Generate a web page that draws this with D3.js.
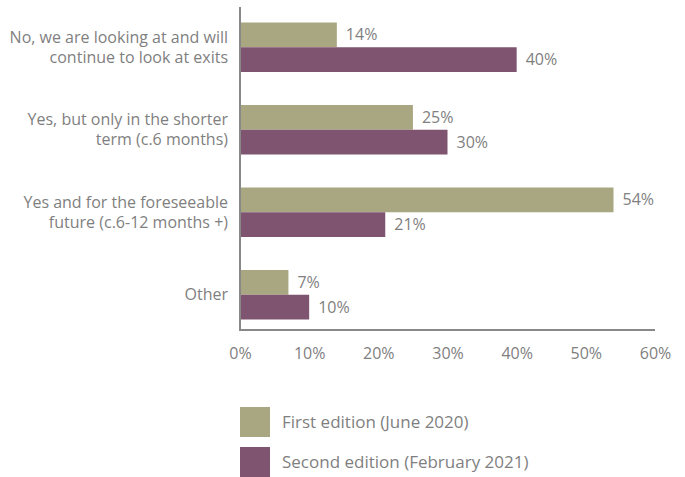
<!DOCTYPE html>
<html>
<head>
<meta charset="utf-8">
<script src="https://cdn.jsdelivr.net/npm/d3@7"></script>
<style>
  body { margin: 0; background: #fff; }
  text { font-family: "Open Sans", sans-serif; fill: #7f7f7f; }
</style>
</head>
<body>
<div id="chart"></div>
<script>
// answers, top to bottom (each label split into lines)
var categories = [
    ["No, we are looking at and will", "continue to look at exits"],
    ["Yes, but only in the shorter", "term (c.6 months)"],
    ["Yes and for the foreseeable", "future (c.6-12 months +)"],
    ["Other"]
];
var seriesNames = ["First edition (June 2020)", "Second edition (February 2021)"];
var firstEdition = [14, 25, 54, 7];
var secondEdition = [40, 30, 21, 10];
var xTicks = [0, 10, 20, 30, 40, 50, 60];
var colors = ["#a9a781", "#7f5470"];

var width = 685, height = 477;
var margin = {top: 6, left: 240, right: 30};
var plotBottom = 336;

var svg = d3.select("#chart").append("svg")
    .attr("width", width)
    .attr("height", height);

var x = d3.scaleLinear().domain([0, 60]).range([margin.left, width - margin.right]);
var y = d3.scaleBand().domain(d3.range(categories.length))
    .range([margin.top, plotBottom])
    .paddingInner(0.4).paddingOuter(0.2);
var sub = d3.scaleBand().domain([0, 1]).range([0, y.bandwidth()]);

var rows = categories.map(function(c, i) {
    return {i: i, label: c, values: [firstEdition[i], secondEdition[i]]};
});

// bars + value labels
var groups = svg.selectAll("g.row").data(rows).enter().append("g")
    .attr("class", "row")
    .attr("transform", function(d) { return "translate(0," + y(d.i) + ")"; });

groups.selectAll("rect").data(function(d) { return d.values; }).enter().append("rect")
    .attr("x", x(0))
    .attr("y", function(d, j) { return sub(j); })
    .attr("width", function(d) { return x(d) - x(0); })
    .attr("height", sub.bandwidth())
    .attr("fill", function(d, j) { return colors[j]; });

groups.selectAll("text.val").data(function(d) { return d.values; }).enter().append("text")
    .attr("class", "val")
    .attr("x", function(d) { return x(d) + 9; })
    .attr("y", function(d, j) { return sub(j) + sub.bandwidth() / 2; })
    .attr("dy", "0.35em")
    .style("font-size", "16px")
    .text(function(d) { return d + "%"; });

// category labels
var labels = svg.selectAll("text.cat").data(rows).enter().append("text")
    .attr("class", "cat")
    .attr("text-anchor", "end")
    .style("font-size", "16px")
    .attr("y", function(d) { return y(d.i) + y.bandwidth() / 2; });

labels.selectAll("tspan").data(function(d) { return d.label; }).enter().append("tspan")
    .attr("x", 228)
    .attr("dy", function(t, j, nodes) {
        var n = nodes.length;
        return j == 0 ? (0.35 - (n - 1) * 0.625) + "em" : "1.25em";
    })
    .text(function(t) { return t; });

// axes
var xAxis = d3.axisBottom(x).tickValues(xTicks)
    .tickFormat(function(d) { return d + "%"; })
    .tickSize(0).tickPadding(18);

var gx = svg.append("g").attr("transform", "translate(0,330)").call(xAxis);
gx.select(".domain").remove();
gx.selectAll("text").style("font-size", "16px").style("font-family", "Open Sans, sans-serif").attr("fill", "#7f7f7f");

svg.append("line")
    .attr("x1", x(0)).attr("x2", x(0))
    .attr("y1", 7).attr("y2", 331)
    .attr("stroke", "#888").attr("stroke-width", 2);
svg.append("line")
    .attr("x1", x(0)).attr("x2", x(60))
    .attr("y1", 330).attr("y2", 330)
    .attr("stroke", "#888").attr("stroke-width", 2);

// legend
var legend = svg.selectAll("g.legend").data(seriesNames).enter().append("g")
    .attr("class", "legend")
    .attr("transform", function(d, i) { return "translate(240," + (407 + i * 40) + ")"; });
legend.append("rect")
    .attr("width", 30).attr("height", 30)
    .attr("fill", function(d, i) { return colors[i]; });
legend.append("text")
    .attr("x", 42).attr("y", 15).attr("dy", "0.35em")
    .style("font-size", "17px")
    .text(function(d) { return d; });
</script>
</body>
</html>
